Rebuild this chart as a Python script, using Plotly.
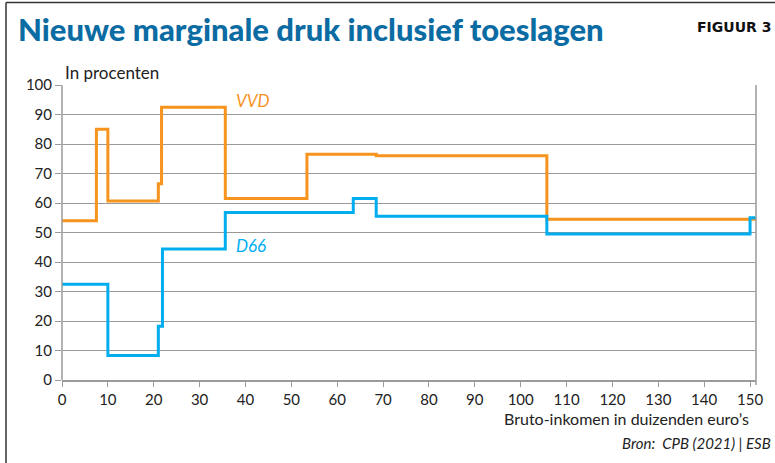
import plotly.graph_objects as go

# Data (income in thousands of euros, marginal pressure in %)
vvd_x = [0, 7.5, 10, 21, 21.7, 35.6, 53.4, 68.5, 105.7, 152]
vvd_y = [54, 85, 60.7, 66.5, 92.5, 61.5, 76.5, 76, 54.5, 54.5]
d66_x = [0, 10, 21, 21.9, 35.6, 63.5, 68.5, 105.7, 150, 152]
d66_y = [32.5, 8.3, 18.2, 44.4, 56.8, 61.5, 55.5, 49.5, 55, 55]
x_ticks = list(range(0, 151, 10))
y_ticks = list(range(0, 101, 10))

ORANGE = "#F7941D"
BLUE = "#00AEEF"
TITLE_BLUE = "#0B6BA3"
GRID = "#9A9A9A"
TXT = "#222222"

W, H = 775, 463
L, R, T, B = 62, 756, 85, 380
pw, ph = R - L, B - T


def px(x):
    return (x - L) / pw


def py(y):
    return (B - y) / ph


fig = go.Figure()
fig.add_trace(go.Scatter(x=vvd_x, y=vvd_y, mode="lines", line=dict(color=ORANGE, width=3, shape="hv"),
                         name="VVD", hoverinfo="skip"))
fig.add_trace(go.Scatter(x=d66_x, y=d66_y, mode="lines", line=dict(color=BLUE, width=3, shape="hv"),
                         name="D66", hoverinfo="skip"))

fig.update_layout(
    width=W, height=H,
    margin=dict(l=L, r=W - R, t=T, b=H - B, pad=0),
    paper_bgcolor="white", plot_bgcolor="white",
    showlegend=False,
    font=dict(family="Lato, Open Sans, sans-serif", color=TXT, size=15),
    title=dict(text="Nieuwe marginale druk inclusief toeslagen", xref="container", yref="container",
               x=18 / W, xanchor="left", y=1 - 30 / H, yanchor="middle",
               font=dict(family="Lato", size=31, weight=900, color=TITLE_BLUE)),
)

fig.update_xaxes(range=[0, 151.3], tickvals=x_ticks, ticks="outside", ticklen=5, tickcolor=GRID,
                 showgrid=False, zeroline=False, showline=True, linecolor=GRID, linewidth=1.5,
                 mirror=False, tickfont=dict(size=15, color=TXT))
fig.update_yaxes(range=[0, 100], tickvals=y_ticks, ticks="outside", ticklen=6, tickcolor=GRID,
                 showgrid=True, gridcolor=GRID, gridwidth=1, zeroline=False, showline=False,
                 tickfont=dict(size=15, color=TXT))

shapes = [
    # y axis line (left) and right border line
    dict(type="line", xref="paper", yref="paper", x0=0, x1=0, y0=0, y1=1, line=dict(color=GRID, width=1.5)),
    dict(type="line", xref="paper", yref="paper", x0=1, x1=1, y0=py(B + 5), y1=1, line=dict(color=GRID, width=1.5)),
    # outer frame (left and top)
    dict(type="line", xref="paper", yref="paper", x0=px(6), x1=px(6), y0=py(H + 5), y1=py(2.5),
         line=dict(color="#333333", width=1.5)),
    dict(type="line", xref="paper", yref="paper", x0=px(6), x1=px(W + 5), y0=py(2.5), y1=py(2.5),
         line=dict(color="#333333", width=1.5)),
]
fig.update_layout(shapes=shapes)

ann = [
    dict(text="<b>FIGUUR 3</b>", x=px(773), y=py(27), xanchor="right", yanchor="middle",
         font=dict(family="DejaVu Sans", size=14, color="#111111")),
    dict(text="In procenten", x=px(63), y=py(72), xanchor="left", yanchor="middle",
         font=dict(family="Lato", size=17, color=TXT)),
    dict(text="Bruto-inkomen in duizenden euro’s", x=px(751), y=py(418), xanchor="right", yanchor="middle",
         font=dict(family="Lato", size=16, color=TXT)),
    dict(text="<i>Bron:  CPB (2021) | ESB</i>", x=px(773), y=py(443), xanchor="right", yanchor="middle",
         font=dict(family="Lato", size=15, color=TXT)),
]
for a in ann:
    a.update(xref="paper", yref="paper", showarrow=False)
fig.update_layout(annotations=ann)
fig.add_annotation(text="<i>VVD</i>", x=37.5, y=94.8, xref="x", yref="y", xanchor="left", yanchor="middle",
                   showarrow=False, font=dict(family="Lato", size=17, color=ORANGE))
fig.add_annotation(text="<i>D66</i>", x=37.5, y=45.5, xref="x", yref="y", xanchor="left", yanchor="middle",
                   showarrow=False, font=dict(family="Lato", size=17, color=BLUE))

fig.write_html("out.html", config={"displayModeBar": False},
               post_script="document.body.style.margin='0';document.body.style.padding='0';")
